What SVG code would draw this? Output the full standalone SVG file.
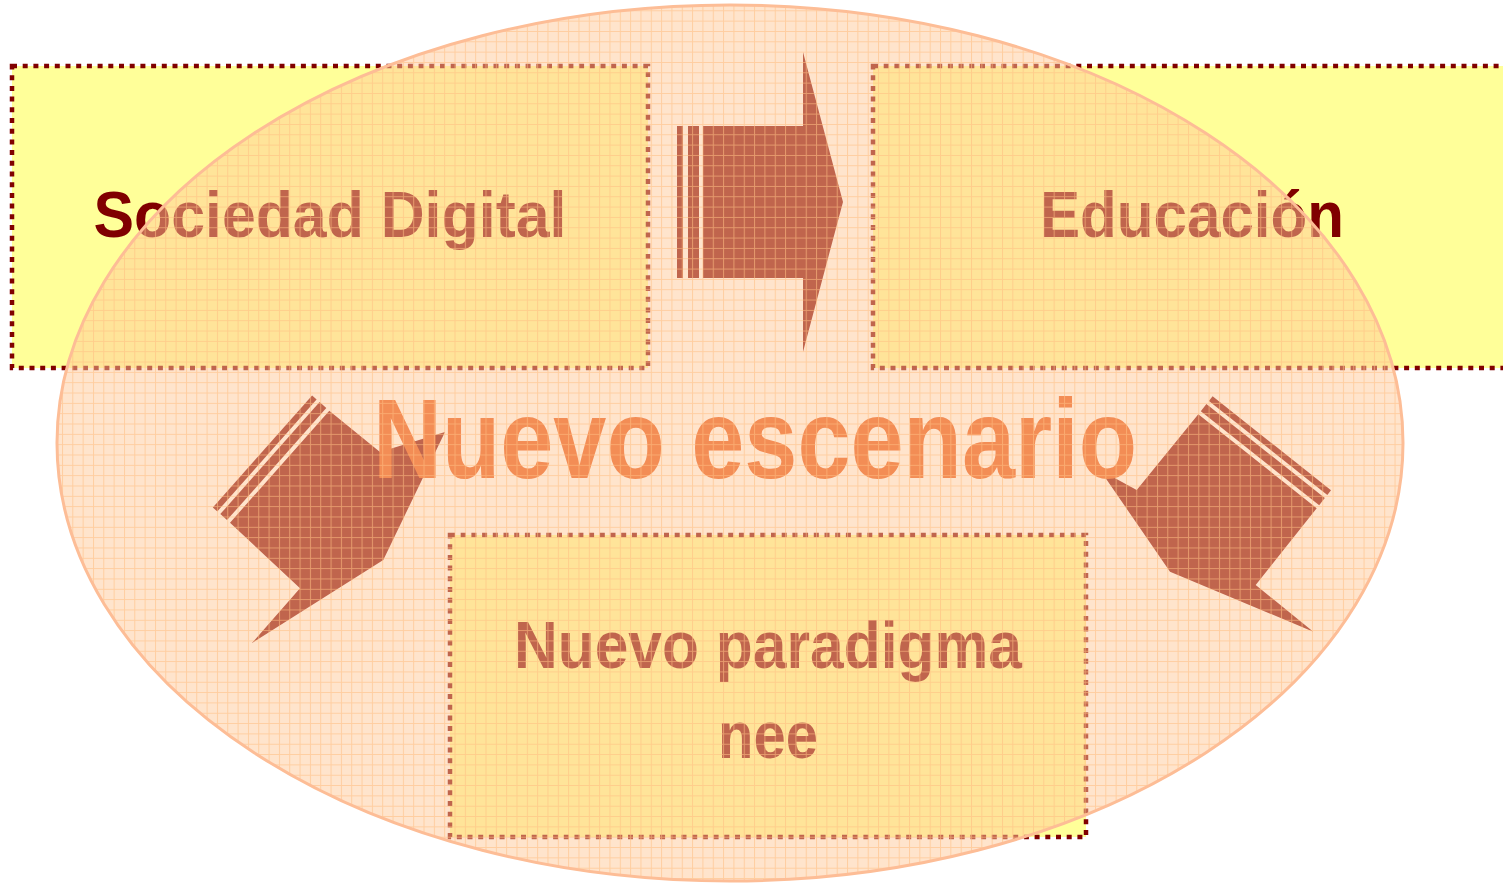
<svg xmlns="http://www.w3.org/2000/svg" width="1503" height="886" viewBox="0 0 1503 886">
<defs>
<style>
.box{fill:#FFFF99;stroke:#800000;stroke-width:4.5;stroke-dasharray:5 5.7}
.lbl{font-family:"Liberation Sans",Arial,sans-serif;font-weight:bold;fill:#800000;text-anchor:middle}
.arr{fill:#800000}
</style>
<pattern id="grid" patternUnits="userSpaceOnUse" width="10.33" height="10.33">
<path d="M0 0.5H10.33M0.5 0V10.33" stroke="#FFBE82" stroke-width="1" fill="none" stroke-opacity="0.6"/>
</pattern>
</defs>
<rect width="1503" height="886" fill="#FFFFFF"/>
<g id="box-sociedad">
<rect class="box" x="12" y="66" width="636" height="302"/>
<text class="lbl" x="330" y="237" font-size="65" textLength="473" lengthAdjust="spacingAndGlyphs">Sociedad Digital</text>
</g>
<g id="box-educacion">
<rect class="box" x="873" y="66" width="636" height="302"/>
<text class="lbl" x="1192" y="237" font-size="65" textLength="304" lengthAdjust="spacingAndGlyphs">Educación</text>
</g>
<g id="box-paradigma">
<rect class="box" x="450" y="535" width="636" height="302"/>
<text class="lbl" x="768" y="668" font-size="66" textLength="508" lengthAdjust="spacingAndGlyphs">Nuevo paradigma</text>
<text class="lbl" x="768" y="758" font-size="66" textLength="100" lengthAdjust="spacingAndGlyphs">nee</text>
</g>
<g id="connectors">
<g id="arrow-right">
<rect class="arr" x="677" y="126" width="6" height="152"/>
<rect class="arr" x="688" y="126" width="11" height="152"/>
<polygon class="arr" points="703,126 803,126 803,52 843,202 803,352 803,278 703,278"/>
</g>
<g id="arrow-left">
<polygon class="arr" points="227.0,520.1 326.3,408.1 319.6,402.1 220.3,514.1"/>
<polygon class="arr" points="217.3,511.4 316.6,399.4 312.1,395.5 212.8,507.5"/>
<polygon class="arr" points="329.3,410.7 380,452 445,432 383.3,560 251.7,643.3 300,588.3 230,522.7"/>
</g>
<g id="arrow-right-down">
<polygon class="arr" points="1200.8,411.2 1319.2,505.2 1324.8,498.1 1206.4,404.1"/>
<polygon class="arr" points="1208.9,401.0 1327.3,495.0 1331.0,490.3 1212.6,396.3"/>
<polygon class="arr" points="1198.3,414.3 1316.7,508.3 1255.7,585 1313.3,631.7 1170,571.7 1100,470 1136.7,490"/>
</g>
</g>
<g id="nuevo-escenario">
<ellipse cx="730" cy="443" rx="673" ry="438" fill="#FFC999" fill-opacity="0.5"/>
<text x="755" y="478" font-family="'Liberation Sans',Arial,sans-serif" font-weight="bold" font-size="113" fill="#F38D55" text-anchor="middle" textLength="764" lengthAdjust="spacingAndGlyphs">Nuevo escenario</text>
<ellipse cx="730" cy="443" rx="673" ry="438" fill="url(#grid)" stroke="#FDBD96" stroke-width="3"/>
</g>
</svg>
